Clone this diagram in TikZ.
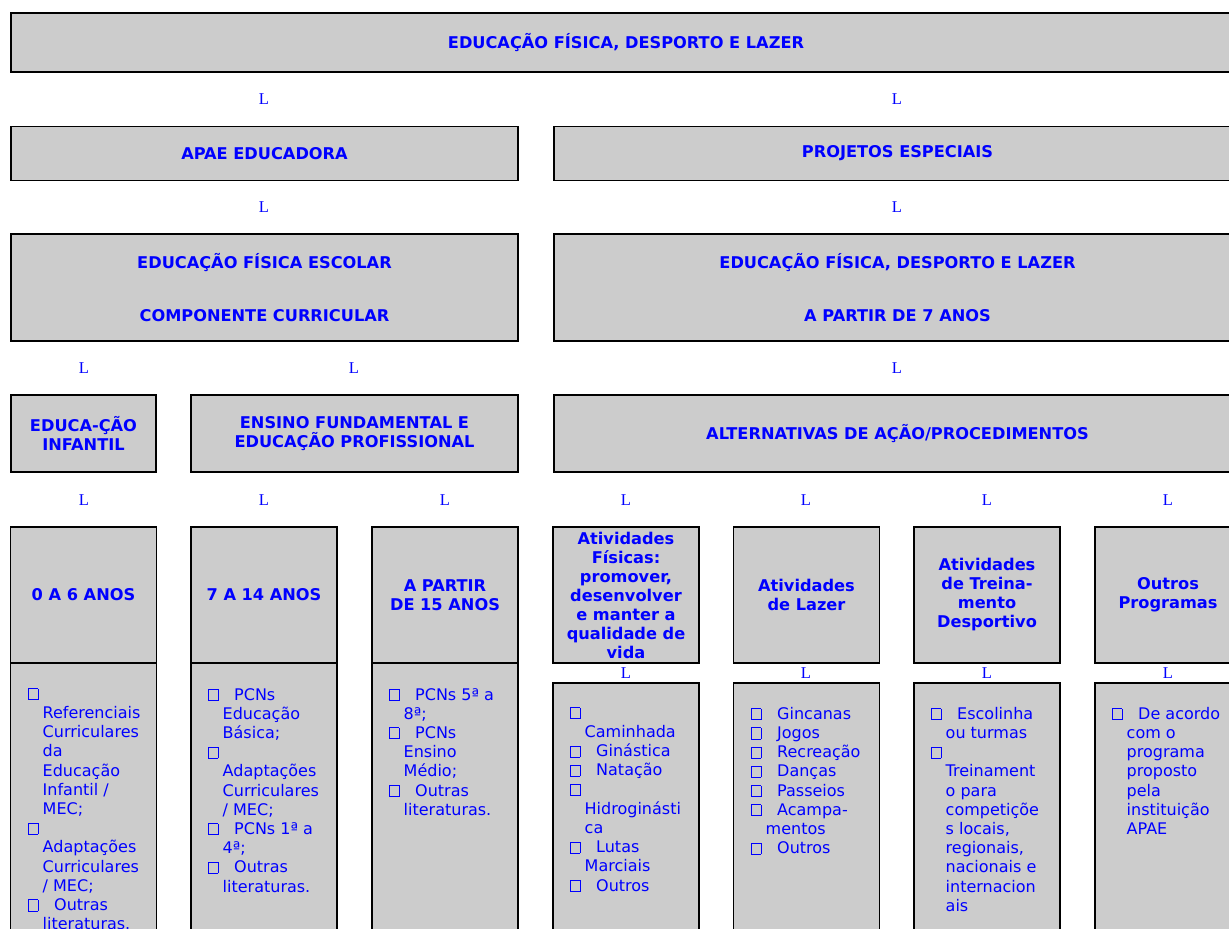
\documentclass[tikz,border=0pt]{standalone}
\usepackage{fontspec}
\setmainfont{DejaVu Sans}
\newfontfamily\lfont{Liberation Serif}
\usepackage{tikz}

\definecolor{boxgray}{RGB}{204,204,204}
\newcommand{\chk}{\makebox[26pt][l]{\fboxsep=0pt\fboxrule=0.9pt\framebox[10.2pt]{\rule{0pt}{10.2pt}}}}
\newcommand{\ind}{\hspace*{14.5pt}}

\begin{document}
\begin{tikzpicture}[x=1pt, y=-1pt]
    \tikzstyle{box} = [draw=black, line width=1.8pt, fill=boxgray, text=blue, inner sep=0pt, align=center, font=\bfseries\fontsize{16.2}{19}\selectfont]
    \tikzstyle{lmark} = [text=blue, inner sep=0pt, font=\lfont\fontsize{16.5}{19}\selectfont]
    \tikzstyle{list} = [text=blue, inner sep=0pt, align=left, anchor=north west, font=\fontsize{16}{19.2}\selectfont, execute at begin node=\rule{0pt}{14pt}]
    \useasboundingbox (0,0) rectangle (1229,929);
    \clip (0,0) rectangle (1229,929);

    \node[box, minimum width=1230, minimum height=59] (top) at (626,42.5) {EDUCAÇÃO FÍSICA, DESPORTO E LAZER};
    \node[box, minimum width=507, minimum height=54] (apae) at (264.5,153.5) {APAE EDUCADORA};
    \node[box, minimum width=687, minimum height=54] (projetos) at (897.5,153.5) {PROJETOS ESPECIAIS};
    \node[box, minimum width=507, minimum height=107] (escolar) at (264.5,287.5) {EDUCAÇÃO FÍSICA ESCOLAR\\[34pt]COMPONENTE CURRICULAR};
    \node[box, minimum width=687, minimum height=107] (desporto) at (897.5,287.5) {EDUCAÇÃO FÍSICA, DESPORTO E LAZER\\[34pt]A PARTIR DE 7 ANOS};
    \node[box, minimum width=145, minimum height=77] (infantil) at (83.5,433.5) {EDUCA-ÇÃO\\INFANTIL};
    \node[box, minimum width=327, minimum height=77] (ensino) at (354.5,433.5) {ENSINO FUNDAMENTAL E\\EDUCAÇÃO PROFISSIONAL};
    \node[box, minimum width=687, minimum height=77] (alternativas) at (897.5,433.5) {ALTERNATIVAS DE AÇÃO/PROCEDIMENTOS};

    \foreach \x/\n in {264/a, 897/b} {
        \node[lmark] (l1\n) at (\x,99) {L};
        \node[lmark] (l2\n) at (\x,207) {L};
    }
    \foreach \x/\n in {84/a, 354/b, 897/c}
        \node[lmark] (l3\n) at (\x,368) {L};
    \foreach \x [count=\i] in {84,264,445,626,806,987,1168}
        \node[lmark] (l4\i) at (\x,500) {L};
    \foreach \x [count=\i from 4] in {626,806,987,1168}
        \node[lmark] (l5\i) at (\x,673) {L};

    \foreach \x [count=\i] in {83.5,264,445}
        \node[box, minimum width=146, minimum height=297] (b\i) at (\x,811.5) {};
    \foreach \x [count=\i from 4] in {626,806.5,987,1168}
        \node[box, minimum width=146, minimum height=277] (b\i) at (\x,821.5) {};

    \node[box, minimum width=146, minimum height=136] (h1) at (83.5,595) {0 A 6 ANOS};
    \node[box, minimum width=146, minimum height=136] (h2) at (264,595) {7 A 14 ANOS};
    \node[box, minimum width=146, minimum height=136] (h3) at (445,595) {A PARTIR\\DE 15 ANOS};
    \node[box, minimum width=146, minimum height=136] (h4) at (626,595) {Atividades\\Físicas:\\promover,\\desenvolver\\e manter a\\qualidade de\\vida};
    \node[box, minimum width=146, minimum height=136] (h5) at (806.5,595) {Atividades\\de Lazer};
    \node[box, minimum width=146, minimum height=136] (h6) at (987,595) {Atividades\\de Treina-\\mento\\Desportivo};
    \node[box, minimum width=146, minimum height=136] (h7) at (1168,595) {Outros\\Programas};

    \node[list] (t1) at (28,688) {\chk\\\ind Referenciais\\\ind Curriculares\\\ind da\\\ind Educação\\\ind Infantil /\\\ind MEC;\\\chk\\\ind Adaptações\\\ind Curriculares\\\ind / MEC;\\\chk Outras\\\ind literaturas.};
    \node[list] (t2) at (208,688) {\chk PCNs\\\ind Educação\\\ind Básica;\\\chk\\\ind Adaptações\\\ind Curriculares\\\ind / MEC;\\\chk PCNs 1ª a\\\ind 4ª;\\\chk Outras\\\ind literaturas.};
    \node[list] (t3) at (389,688) {\chk PCNs 5ª a\\\ind 8ª;\\\chk PCNs\\\ind Ensino\\\ind Médio;\\\chk Outras\\\ind literaturas.};
    \node[list] (t4) at (570,707) {\chk\\\ind Caminhada\\\chk Ginástica\\\chk Natação\\\chk\\\ind Hidroginásti\\\ind ca\\\chk Lutas\\\ind Marciais\\\chk Outros};
    \node[list] (t5) at (751,707) {\chk Gincanas\\\chk Jogos\\\chk Recreação\\\chk Danças\\\chk Passeios\\\chk Acampa-\\\ind mentos\\\chk Outros};
    \node[list] (t6) at (931,707) {\chk Escolinha\\\ind ou turmas\\\chk\\\ind Treinament\\\ind o para\\\ind competiçõe\\\ind s locais,\\\ind regionais,\\\ind nacionais e\\\ind internacion\\\ind ais};
    \node[list] (t7) at (1112,707) {\chk De acordo\\\ind com o\\\ind programa\\\ind proposto\\\ind pela\\\ind instituição\\\ind APAE};
\end{tikzpicture}
\end{document}
